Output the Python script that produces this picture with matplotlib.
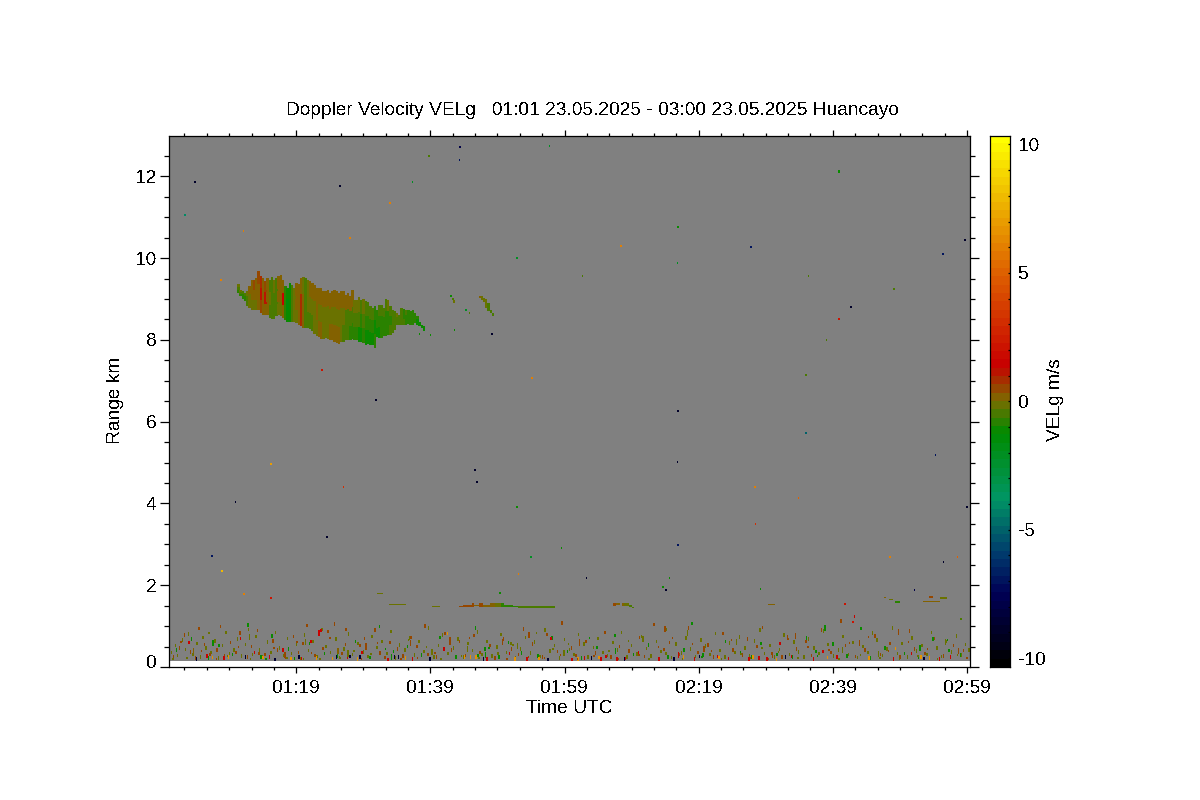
import matplotlib
matplotlib.use("Agg")
import matplotlib.pyplot as plt
from matplotlib.colors import LinearSegmentedColormap, Normalize
from matplotlib.ticker import FixedLocator
from matplotlib.transforms import ScaledTranslation

plt.rcParams['font.family'] = ['Liberation Sans', 'DejaVu Sans']
plt.rcParams['text.antialiased'] = False

TITLE = "Doppler Velocity VELg   01:01 23.05.2025 - 03:00 23.05.2025 Huancayo"
time_ticks = [79, 99, 119, 139, 159, 179]
time_labels = ["01:19", "01:39", "01:59", "02:19", "02:39", "02:59"]
range_ticks = [0, 2, 4, 6, 8, 10, 12]
vel_ticks = [-10, -5, 0, 5, 10]
vel_limit = 10.35
range_floor = 0.147

cmap_pos = [-10.35, -7.6, -6.0, -3.85, -1.25, 0.0, 1.4, 5.0, 7.5, 10.35]
cmap_rgb = [(0, 0, 0), (0, 0, 85), (0, 60, 110), (0, 150, 100), (0, 140, 0),
            (122, 110, 0), (200, 0, 0), (222, 95, 0), (236, 170, 0), (255, 255, 0)]

# main cloud, one column per 20 s profile
cloud_t = [70.20, 70.53, 70.87, 71.20, 71.53, 71.87, 72.20, 72.53, 72.87, 73.20, 73.53, 73.87,
           74.20, 74.53, 74.87, 75.20, 75.53, 75.87, 76.20, 76.53, 76.87, 77.20, 77.53, 77.87,
           78.20, 78.53, 78.87, 79.20, 79.53, 79.87, 80.20, 80.53, 80.87, 81.20, 81.53, 81.87,
           82.20, 82.53, 82.87, 83.20, 83.53, 83.87, 84.20, 84.53, 84.87, 85.20, 85.53, 85.87,
           86.20, 86.53, 86.87, 87.20, 87.53, 87.87, 88.20, 88.53, 88.87, 89.20, 89.53, 89.87,
           90.20, 90.53, 90.87, 91.20, 91.53, 91.87, 92.20, 92.53, 92.87, 93.20, 93.53, 93.87,
           94.20, 94.53, 94.87, 95.20, 95.53, 95.87, 96.20, 96.53, 96.87, 97.20, 97.53, 97.87]
cloud_top = [9.38, 9.23, 9.19, 9.15, 9.19, 9.31, 9.46, 9.47, 9.51, 9.68, 9.57, 9.51,
             9.43, 9.51, 9.47, 9.55, 9.47, 9.51, 9.57, 9.60, 9.46, 9.31, 9.27, 9.39,
             9.35, 9.27, 9.39, 9.38, 9.51, 9.55, 9.51, 9.47, 9.43, 9.39, 9.35, 9.27,
             9.27, 9.27, 9.19, 9.19, 9.23, 9.15, 9.19, 9.21, 9.19, 9.15, 9.19, 9.19,
             9.11, 9.15, 9.07, 9.21, 8.98, 8.98, 9.05, 8.98, 9.00, 8.94, 8.92, 8.82,
             8.78, 8.82, 8.74, 8.86, 8.86, 8.78, 9.00, 8.98, 8.82, 8.74, 8.70, 8.66,
             8.62, 8.78, 8.76, 8.72, 8.72, 8.70, 8.74, 8.66, 8.58, 8.45, 8.37, 8.33]
cloud_base = [9.15, 9.08, 9.00, 8.94, 8.82, 8.78, 8.74, 8.74, 8.72, 8.74, 8.67, 8.62,
              8.62, 8.62, 8.54, 8.51, 8.51, 8.58, 8.62, 8.58, 8.54, 8.49, 8.45, 8.45,
              8.45, 8.45, 8.41, 8.37, 8.33, 8.29, 8.29, 8.29, 8.27, 8.21, 8.15, 8.10,
              8.07, 8.02, 8.02, 8.04, 8.02, 8.00, 8.00, 7.96, 7.92, 7.91, 7.94, 7.96,
              8.00, 8.00, 7.99, 8.02, 8.00, 8.00, 7.96, 7.96, 7.92, 7.88, 7.91, 7.88,
              7.88, 7.80, 8.07, 8.04, 8.04, 8.09, 8.09, 8.13, 8.13, 8.17, 8.25, 8.37,
              8.37, 8.37, 8.37, 8.37, 8.40, 8.37, 8.37, 8.41, 8.37, 8.33, 8.29, 8.21]
cloud_v_high = [-.3, -.3, -.4, -.5, -.3, .1, .3, .4, .3, .5, .8, .3,
                .6, .1, -.4, -.5, -.3, -.5, .1, .2, .1, -.8, -1.2, -1.1,
                -.6, -.2, .1, .1, .1, -.2, -.4, -.3, 0, 0, 0, .1,
                .1, 0, 0, 0, .1, 0, .1, .1, .1, 0, .1, 0,
                .1, 0, 0, 0, -.2, -.3, -.3, -.4, -.3, -.4, -.4, -.5,
                -.6, -.7, -.7, -.6, -.5, -.4, -.4, -.3, -.4, -.5, -.4, -.3,
                -.4, -.6, -.7, -.6, -.7, -.8, -.8, -.8, -.9, -1.0, -1.1, -1.2]
cloud_v_mid = [-.5, -.6, -.7, -.7, -.5, -.1, .1, .1, .1, .3, 1.2, .3,
               1.0, .3, -.3, -.4, -.5, -.6, 0, .1, 1.3, -.9, -1.3, -1.2,
               -.6, -.1, .1, .3, .9, .1, -.4, -.3, -.3, -.2, -.1, 0,
               -.1, -.2, -.2, -.1, -.1, -.2, -.1, -.2, -.3, -.2, -.1, -.3,
               -.4, -.4, -.4, -.5, -.5, -.6, -.6, -.7, -.6, -.7, -.8, -.8,
               -.9, -1.1, -.9, -.8, -.9, -.8, -.7, -.7, -.7, -.6, -.5, -.4,
               -.5, -.6, -.7, -.7, -.8, -.8, -.9, -.9, -1.0, -1.1, -1.1, -1.2]
cloud_v_low = [-.7, -.8, -.9, -.8, -.6, -.3, -.3, -.3, -.3, .1, .4, .1,
               .3, .1, -.4, -.5, -.5, -.5, -.3, -.2, .2, -.9, -1.2, -1.1,
               -.6, -.3, -.1, .1, .7, .1, -.6, -.5, -.4, -.4, -.3, -.1,
               0, 0, -.2, -.1, -.1, 0, .1, .1, .1, 0, -.2, -.4,
               -.5, -.6, -.7, -.8, -.9, -.9, -1.0, -1.0, -.9, -1.0, -1.0, -1.0,
               -1.0, -.9, -1.1, -1.1, -.9, -.8, -.9, -.8, -.6, -.6, -.5, -.4,
               -.5, -.6, -.6, -.7, -.8, -.9, -.9, -.9, -1.0, -1.1, -1.2, -1.2]

# thin layers and small echoes: start, end, base, top, velocity
patch_start = [103.2, 103.9, 105.2, 105.5, 106.2, 106.9, 107.9, 108.7, 109.5, 110.0, 111.3, 112.1,
               126.2, 126.7, 127.6, 127.9, 128.6, 129.0,
               91.05, 92.8, 96.5, 99.2, 149.4, 166.6, 167.3, 168.2, 171.5, 172.4, 173.4, 175.0,
               101.9, 102.2, 102.4, 106.2, 106.5, 106.85, 107.2, 107.5, 107.85, 108.2]
patch_end = [103.9, 105.2, 105.5, 106.2, 106.9, 107.9, 108.7, 109.5, 110.0, 111.3, 112.1, 117.6,
             126.7, 127.3, 127.9, 128.6, 129.0, 129.4,
             92.0, 95.3, 98.0, 100.5, 150.4, 167.0, 168.0, 169.0, 172.3, 175.0, 173.9, 176.0,
             102.2, 102.5, 102.7, 106.5, 106.85, 107.2, 107.5, 107.85, 108.2, 108.5]
patch_base = [1.46, 1.47, 1.47, 1.48, 1.47, 1.47, 1.47, 1.47, 1.46, 1.46, 1.46, 1.45,
              1.50, 1.51, 1.50, 1.49, 1.47, 1.45,
              1.79, 1.51, 1.48, 1.47, 1.51, 1.69, 1.64, 1.57, 1.58, 1.59, 1.69, 1.66,
              9.05, 8.97, 8.90, 9.03, 8.97, 8.93, 8.79, 8.70, 8.66, 8.58]
patch_top = [1.50, 1.52, 1.56, 1.51, 1.56, 1.52, 1.56, 1.56, 1.56, 1.52, 1.50, 1.48,
             1.56, 1.56, 1.56, 1.56, 1.52, 1.47,
             1.82, 1.54, 1.50, 1.50, 1.54, 1.72, 1.67, 1.61, 1.60, 1.62, 1.73, 1.71,
             9.11, 9.03, 8.97, 9.07, 9.07, 9.03, 8.99, 8.91, 8.74, 8.66]
patch_v = [.4, .4, .5, .2, .5, .2, .1, -.3, -.7, -.9, -.8, -.4,
           .4, .2, .2, -.2, -.6, -.4,
           -.3, -.2, -.2, -.3, .2, .1, -.3, -.9, -.2, .1, .4, -.2,
           -1.0, -.5, -.3, .1, -.1, -.2, -.3, -.4, -.6, -.6]

# isolated range gates over the whole field
gate_t = [63.8, 62.3, 85.4, 103.2, 103.3, 71.0, 86.9, 67.7, 82.75, 90.8, 75.15, 85.9,
          69.8, 105.55, 105.85, 83.5, 66.35, 67.85, 71.1, 75.15, 114.05, 108.1, 146.7, 175.3,
          178.6, 159.8, 161.6, 135.8, 135.7, 154.9, 147.3, 153.8, 147.4, 174.2, 178.9, 135.8,
          167.4, 177.5, 175.4, 171.1, 122.2, 134.0, 134.5, 160.7, 161.9, 112.0, 113.9, 118.4,
          111.8, 127.3, 135.8, 135.7, 116.7, 159.8, 155.3, 92.9, 96.2, 98.7, 111.8, 121.6,
          104.2, 168.0, 98.9, 158.0, 154.9, 97.3, 102.5, 104.7, 109.3, 133.6, 178.0, 148.1]
gate_r = [11.87, 11.06, 11.77, 12.39, 12.73, 10.67, 10.50, 9.47, 7.27, 6.54, 4.97, 4.41,
          4.04, 4.82, 4.53, 3.18, 2.72, 2.35, 1.79, 1.69, 7.07, 8.15, 10.28, 10.11,
          10.45, 8.52, 8.81, 6.27, 5.02, 5.73, 4.41, 4.14, 3.50, 5.19, 3.92, 2.99,
          2.69, 2.69, 2.57, 1.88, 2.18, 1.88, 2.18, 1.54, 1.10, 2.28, 2.69, 2.91,
          3.92, 10.30, 10.77, 9.89, 12.75, 12.12, 9.57, 11.36, 11.87, 12.50, 10.00, 9.57,
          8.74, 9.25, 8.13, 8.00, 7.15, 8.15, 8.25, 8.65, 1.80, 1.96, 1.17, 1.90]
gate_v = [-9, -4, -9, -7, -8, 6, 6, 6, 2, -9, 7, 3,
          -9, -9, -9, -9, -7, 8, 6, 2, 6, -9, -7, -7,
          -9, 2, -9, -9, -9, -5, 6, 5, 3, -7, -9, -7,
          6, 5, -9, -8, -9, -9, -1, 2, 2, 6, -2, -1,
          -1, 6, -1, -2, -2, -1, -.5, 6, -2, -.5, -2, -.5,
          -2, -.5, -1, -.5, -.5, -1, -1, -.5, -1, -1, -.5, -1]

# low clutter, grouped by the velocity class it reads as
olive_t = [60.3, 60.9, 61.2, 61.9, 62.4, 62.8, 63.5, 64.1, 64.6, 65.0, 65.4, 66.2, 66.8, 67.3, 67.9, 68.4, 68.9, 69.6, 70.1, 70.7,
           71.3, 71.8, 72.4, 72.9, 73.4, 73.8, 74.6, 75.1, 75.8, 76.4, 77.0, 77.6, 78.2, 78.9, 79.5, 80.1, 80.7, 81.4, 82.0, 82.7,
           83.3, 84.0, 84.8, 85.3, 86.0, 86.7, 87.3, 88.1, 88.9, 89.6, 90.2, 90.9, 91.7, 92.4, 93.0, 93.7, 94.3, 95.1, 95.8, 96.5,
           97.2, 97.9, 98.6, 99.4, 100.1, 100.7, 101.5, 102.3, 103.0, 103.8, 104.5, 105.2, 105.9, 106.6, 107.3, 108.1, 108.8, 109.4, 110.2, 110.9,
           111.6, 112.3, 113.1, 113.8, 114.4, 115.2, 116.0, 116.7, 117.4, 118.1, 118.9, 119.6, 120.3, 121.0, 121.8, 122.4, 123.2, 123.9, 124.6, 125.3,
           126.1, 126.8, 127.4, 128.2, 128.9, 129.7, 130.4, 131.1, 131.8, 132.6, 133.3, 134.1, 134.8, 135.5, 136.3, 137.0, 137.7, 138.4, 139.2, 139.9,
           140.6, 141.4, 142.1, 142.8, 143.5, 144.3, 145.0, 145.8, 146.5, 147.2, 148.0, 148.7, 149.5, 150.2, 150.9, 151.6, 152.4, 153.1, 153.8, 154.6,
           155.3, 156.1, 156.8, 157.5, 158.2, 159.0, 159.7, 160.4, 161.2, 161.9, 162.6, 163.4, 164.1, 164.8, 165.5, 166.3, 167.0, 167.8, 168.5, 169.2,
           170.0, 170.7, 171.4, 172.2, 172.9, 173.6, 174.4, 175.1, 175.8, 176.6, 177.3, 178.0, 178.7, 179.2]
olive_r = [.35, .52, .28, .66, .43, .81, .31, .58, .25, .72, .47, .36, .64, .22, .52, .84, .33, .41, .69, .27,
           .55, .92, .30, .74, .42, .24, .61, .36, .85, .47, .28, .70, .33, .56, .21, .78, .40, .63, .26, .92,
           .50, .35, .68, .23, .44, .81, .30, .58, .37, .26, .74, .48, .62, .33, .87, .22, .54, .41, .71, .29,
           .63, .38, .95, .25, .52, .78, .33, .46, .68, .24, .57, .40, .86, .31, .62, .27, .49, .80, .36, .58,
           .23, .44, .72, .34, .61, .26, .90, .39, .53, .22, .67, .43, .31, .79, .56, .25, .48, .70, .36, .28,
           .60, .41, .84, .24, .53, .32, .75, .45, .27, .62, .38, .92, .23, .56, .34, .71, .44, .26, .66, .51,
           .30, .82, .40, .24, .59, .35, .73, .47, .28, .64, .90, .33, .52, .24, .43, .78, .30, .61, .37, .25,
           .69, .46, .33, .88, .55, .27, .42, .74, .31, .60, .23, .50, .36, .83, .66, .28, .44, .95, .33, .58,
           .25, .71, .39, .52, .30, .84, .46, .26, .63, .37, .76, .29, .55, .41]
brown_t = [60.6, 61.5, 62.2, 63.1, 63.9, 64.4, 65.2, 66.0, 67.1, 67.6, 68.2, 69.1, 69.9, 70.5, 71.6, 72.2, 73.1, 74.2, 75.4, 76.1,
           77.3, 78.5, 79.2, 79.9, 80.5, 81.7, 82.9, 83.6, 84.6, 85.7, 86.3, 87.0, 88.4, 89.1, 90.6, 91.4, 92.1, 92.9, 94.0, 94.8,
           96.0, 96.9, 98.1, 98.5, 99.8, 101.1, 102.0, 103.2, 104.1, 105.4, 106.3, 107.8, 108.5, 109.8, 111.0, 112.0, 112.8, 114.1, 115.6, 116.3,
           117.8, 118.5, 119.9, 120.6, 122.1, 123.5, 124.9, 125.8, 127.1, 128.5, 130.1, 130.8, 132.2, 133.7, 134.5, 136.0, 137.4, 138.8, 140.3, 141.1,
           142.5, 144.0, 145.4, 146.2, 147.6, 148.4, 149.8, 151.3, 152.1, 153.5, 154.9, 155.7, 157.2, 158.6, 160.1, 160.8, 162.3, 163.7, 165.2, 166.0,
           167.4, 168.9, 170.3, 171.1, 172.6, 174.0, 175.4, 176.9, 178.4]
brown_r = [.26, .46, .78, .37, .22, .94, .55, .30, .42, .99, .27, .60, .36, .83, .24, .50, .89, .31, .64, .42,
           .25, .75, .36, .57, 1.02, .28, .45, .87, 1.05, .33, .92, .26, .52, .70, .91, .34, .23, .60, .44, .27,
           .72, .50, 1.00, .31, .25, .82, .41, .62, .28, .77, .35, .52, .22, .69, .44, .30, .93, .56, .25, .80,
           .38, 1.08, .47, .28, .62, .34, .84, .24, .50, .39, .72, .26, 1.04, .43, .60, .30, .95, .36, .54, .24,
           .82, .42, .29, .68, .50, .97, .33, .24, .74, .44, .62, .28, .90, .36, 1.12, .52, .26, .42, .76, .31,
           .58, .24, .88, .44, .33, .70, .27, .52, .40]
green_t = [61.0, 63.3, 65.8, 67.4, 69.4, 71.7, 73.6, 75.3, 77.7, 78.6, 80.9, 83.1, 85.0, 87.7, 89.9, 91.3, 93.4, 95.5, 97.6, 100.3,
           102.7, 105.6, 106.0, 107.0, 109.1, 110.5, 112.5, 114.9, 117.0, 119.3, 121.4, 123.7, 125.0, 126.4, 129.2, 131.4, 134.3, 136.7, 137.9, 139.5,
           142.9, 145.1, 146.8, 148.2, 150.6, 152.9, 155.0, 156.4, 158.9, 161.0, 163.1, 164.5, 166.7, 169.6, 171.7, 173.8, 176.2, 177.9]
green_r = [.42, .68, .22, .53, .30, 1.03, .25, .76, .44, .21, .58, .33, .27, .62, .23, .99, .38, .50, .29, .72,
           .24, .95, .28, .44, .24, .60, .34, .27, .71, .38, .22, .48, .26, .77, .31, .54, .24, .42, 1.06, .29,
           .62, .35, .24, .58, .30, .24, .71, .38, .56, .27, .94, .22, .47, .33, .25, .68, .40, .29]
red_t = [62.9, 65.6, 68.1, 70.6, 72.7, 74.9, 76.9, 79.7, 81.1, 82.6, 86.5, 88.7, 92.6, 96.2, 100.9, 107.3, 110.7, 113.3, 116.9, 120.0,
         121.9, 124.3, 125.1, 126.7, 128.0, 129.9, 133.0, 138.3, 141.7, 143.3, 146.4, 147.9, 149.1, 151.0, 152.7, 156.0, 157.4, 159.5, 162.1, 167.9,
         170.6, 174.8, 176.4]
red_r = [.60, .27, .22, .70, .36, .24, .41, .21, .62, .89, .23, .35, .18, .20, .44, .20, .33, .20, .70, .18,
         .22, .19, .26, .20, .21, .34, .20, .19, .26, .21, .19, .22, .20, .58, .26, .19, .38, .24, 1.24, .20,
         .33, .20, .24]
orange_t = [66.4, 68.8, 73.9, 78.1, 81.9, 84.3, 88.0, 95.2, 101.4, 104.0, 104.9, 105.7, 111.5, 115.1, 120.9, 124.0, 136.6, 141.9, 147.0, 150.5, 158.1, 164.3, 168.2, 172.0, 173.3]
orange_r = [.23, .24, .23, .21, .22, .21, .20, .22, .82, .25, .24, .25, .20, .21, .19, .23, .24, .23, .24, .18, .23, .22, .45, .24, .22]
dark_t = [64.0, 71.3, 75.7, 79.3, 84.9, 86.9, 88.4, 93.5, 94.1, 98.8, 106.8, 116.4, 122.9, 127.8, 135.2, 139.0, 151.8, 172.5]
dark_r = [.20, .24, .18, .24, .24, .26, .24, .24, .24, .20, .19, .18, .22, .20, .19, .26, .24, .21]

tall_t = [63.6, 66.5, 71.9, 77.2, 80.3, 82.3, 85.1, 86.6, 89.3, 93.1, 95.9, 99.1, 101.8, 104.4, 107.1, 109.6, 111.9, 113.6, 118.8, 121.1,
          126.5, 130.6, 133.9, 135.9, 137.2, 139.7, 144.5, 149.9, 153.3, 157.7, 160.3, 162.9, 165.7, 168.7, 171.9, 175.7, 177.6]
tall_r = [.40, .58, .74, .30, .62, .84, .40, .33, .50, .24, .58, .36, .66, .44, .30, .62, .52, .78, .34, .60,
          .40, .68, .92, .30, .84, .44, .62, .30, .76, .96, .42, .58, .32, .86, .46, .62, .40]
tall_v = [.3, -1.0, -.3, .4, -.3, 1.3, .3, -.3, .4, -1.0, .4, -.3, .4, -.3, -1.0, .4, -.3, .4, -.3, .4,
          -1.0, -.3, .4, 1.3, -.3, .4, -.3, .4, .4, -1.0, -.3, .4, -.3, .4, -1.0, -.3, .4]

fine_t = [60.5, 61.7, 62.6, 64.8, 65.9, 67.0, 68.6, 70.3, 72.1, 73.3, 74.4, 75.6, 77.5, 79.0, 80.0, 81.2, 82.4, 83.9, 85.5, 86.2,
          87.5, 88.6, 90.0, 91.0, 92.2, 94.5, 95.6, 97.0, 98.3, 99.6, 100.5, 101.8, 103.5, 104.7, 106.1, 107.6, 109.0, 110.3, 111.2, 113.5,
          114.7, 115.9, 117.2, 118.3, 119.5, 120.8, 122.6, 123.3, 125.5, 126.9, 128.4, 130.0, 131.5, 132.9, 134.0, 135.0, 136.5, 138.0, 139.4, 140.8,
          142.3, 143.8, 145.2, 146.6, 148.3, 149.3, 150.8, 152.2, 153.7, 155.2, 156.6, 158.3, 159.8, 161.4, 163.0, 164.2, 165.9, 167.2, 168.8, 170.2,
          171.6, 173.0, 174.5, 176.0, 177.5, 178.9]
fine_r = [.19, .60, .23, .38, .82, .20, .28, .50, .20, .33, .19, .47, .23, .61, .19, .34, .20, .72, .21, .55,
          .40, .19, .31, .58, .45, .20, .66, .22, .48, .34, .19, .56, .28, .71, .21, .46, .33, .19, .54, .24,
          .83, .21, .45, .30, .57, .20, .72, .27, .40, .20, .63, .29, .19, .50, .33, .70, .20, .56, .25, .40,
          .19, .67, .31, .22, .46, .20, .36, .68, .21, .50, .26, .42, .19, .58, .30, .74, .22, .38, .19, .60,
          .28, .44, .20, .66, .30, .22]
fine_v = [-.3, .4, -.3, .4, -.3, .4, -.3, .4, -.3, .4, -1.0, .4, -.3, .4, -.3, .4, -.3, .4, -.3, .4,
          -.3, .4, -.3, .4, -1.0, .4, -.3, .4, -.3, .4, -.3, .4, -.3, .4, -.3, -1.0, -.3, .4, -.3, .4,
          -.3, .4, -.3, .4, -.3, .4, -1.0, .4, -.3, .4, -.3, .4, -.3, .4, -.3, .4, -.3, .4, -1.0, .4,
          -.3, .4, -.3, .4, -.3, .4, -.3, .4, -.3, .4, -1.0, .4, -.3, .4, -.3, .4, -.3, .4, -.3, .4,
          -.3, .4, -.3, -1.0, -.3, .4]

vel_cmap = LinearSegmentedColormap.from_list(
    "velg",
    [((p - cmap_pos[0]) / (cmap_pos[-1] - cmap_pos[0]), tuple(c / 255 for c in rgb))
     for p, rgb in zip(cmap_pos, cmap_rgb)],
    N=64)
norm = Normalize(-vel_limit, vel_limit)
col = lambda v: vel_cmap(norm(v))

fig = plt.figure(figsize=(12, 8), dpi=100, facecolor="white")
ax = fig.add_axes([169.5 / 1200, 1 - 667 / 800, 800.5 / 1200, 531.5 / 800])
ax.set_xlim(60.1, 179.45)
ax.set_ylim(0, 13)
ax.axhspan(range_floor, 13, color="#808080", lw=0, zorder=0)


def cells(t, base, top, v, width):
    ax.bar(t, [b - a for a, b in zip(base, top)], bottom=base, width=width, align="edge",
           color=[col(x) for x in v], linewidth=0, antialiased=False, zorder=2)


# cloud: three equal bands in every column
bands = [(cloud_v_low, 0, 1), (cloud_v_mid, 1, 2), (cloud_v_high, 2, 3)]
for vals, lo, hi in bands:
    cells(cloud_t,
          [b + (a - b) * lo / 3 for a, b in zip(cloud_top, cloud_base)],
          [b + (a - b) * hi / 3 for a, b in zip(cloud_top, cloud_base)],
          vals, 0.37)

cells(patch_start, patch_base, patch_top, patch_v, [e - s for s, e in zip(patch_start, patch_end)])

GATE_H = 0.05
cells(gate_t, [r - GATE_H / 2 for r in gate_r], [r + GATE_H / 2 for r in gate_r], gate_v, 0.2)

SPECK_H = 0.085
for ts, rs, v in [(olive_t, olive_r, -.3), (brown_t, brown_r, .35), (green_t, green_r, -1.0),
                  (red_t, red_r, 1.3), (orange_t, orange_r, 6.5), (dark_t, dark_r, -8.5)]:
    cells(ts, [r - SPECK_H / 2 for r in rs], [r + SPECK_H / 2 for r in rs], [v] * len(ts), 0.22)
TALL_H = 0.15
cells(tall_t, [r - TALL_H / 2 for r in tall_r], [r + TALL_H / 2 for r in tall_r], tall_v, 0.22)
FINE_H = 0.05
cells(fine_t, [r - FINE_H / 2 for r in fine_r], [r + FINE_H / 2 for r in fine_r], fine_v, 0.22)

FS = 13.8
LW = 0.9
for s in ax.spines.values():
    s.set_linewidth(LW)

minor_x = [t + i * 20 / 6 for t in [59] + time_ticks for i in range(1, 6) if 60.1 < t + i * 20 / 6 < 179.45]
ax.set_xticks(time_ticks)
ax.set_xticklabels(time_labels, fontsize=FS)
ax.xaxis.set_minor_locator(FixedLocator(minor_x))
ax.set_yticks(range_ticks)
ax.set_yticklabels([str(r) for r in range_ticks], fontsize=FS)
ax.yaxis.set_minor_locator(FixedLocator([i / 2 for i in range(1, 26) if i % 4]))
ax.tick_params(axis="x", which="major", direction="out", top=True, length=4.5, width=LW, pad=5)
ax.tick_params(axis="x", which="minor", direction="out", top=True, length=2.2, width=LW)
ax.tick_params(axis="y", which="major", direction="out", right=True, length=6.5, width=LW, pad=2.5)
ax.tick_params(axis="y", which="minor", direction="out", right=True, length=3.6, width=LW)
zero_label = ax.get_yticklabels()[0]
zero_label.set_transform(zero_label.get_transform() + ScaledTranslation(0, 6 / 100, fig.dpi_scale_trans))

ax.set_xlabel("Time UTC", fontsize=FS, labelpad=2)
fig.text(116 / 1200, 1 - 400 / 800, "Range km", fontsize=FS, rotation=90, ha="center", va="center")
fig.text(592.5 / 1200, 1 - 110.5 / 800, TITLE, fontsize=FS, ha="center", va="center")

cax = fig.add_axes([990 / 1200, 1 - 667 / 800, 20 / 1200, 531.5 / 800])
grad = [[v / 63] for v in range(64)]
cax.imshow(grad, origin="lower", aspect="auto", cmap=vel_cmap, vmin=0, vmax=1,
           extent=(0, 1, -vel_limit, vel_limit), interpolation="nearest")
cax.set_xticks([])
cax.yaxis.tick_right()
cax.set_yticks(vel_ticks)
cax.set_yticklabels([str(v) for v in vel_ticks], fontsize=FS)
cax.yaxis.set_minor_locator(FixedLocator([v for v in range(-10, 11) if v % 5]))
cax.tick_params(axis="y", which="major", direction="in", length=1.5, width=LW, pad=6)
cax.tick_params(axis="y", which="minor", direction="in", length=1.5, width=LW)
for s in cax.spines.values():
    s.set_linewidth(LW)
fig.text(1056 / 1200, 1 - 400 / 800, "VELg m/s", fontsize=FS, rotation=90, ha="center", va="center")

fig.savefig("out.png", dpi=100)
